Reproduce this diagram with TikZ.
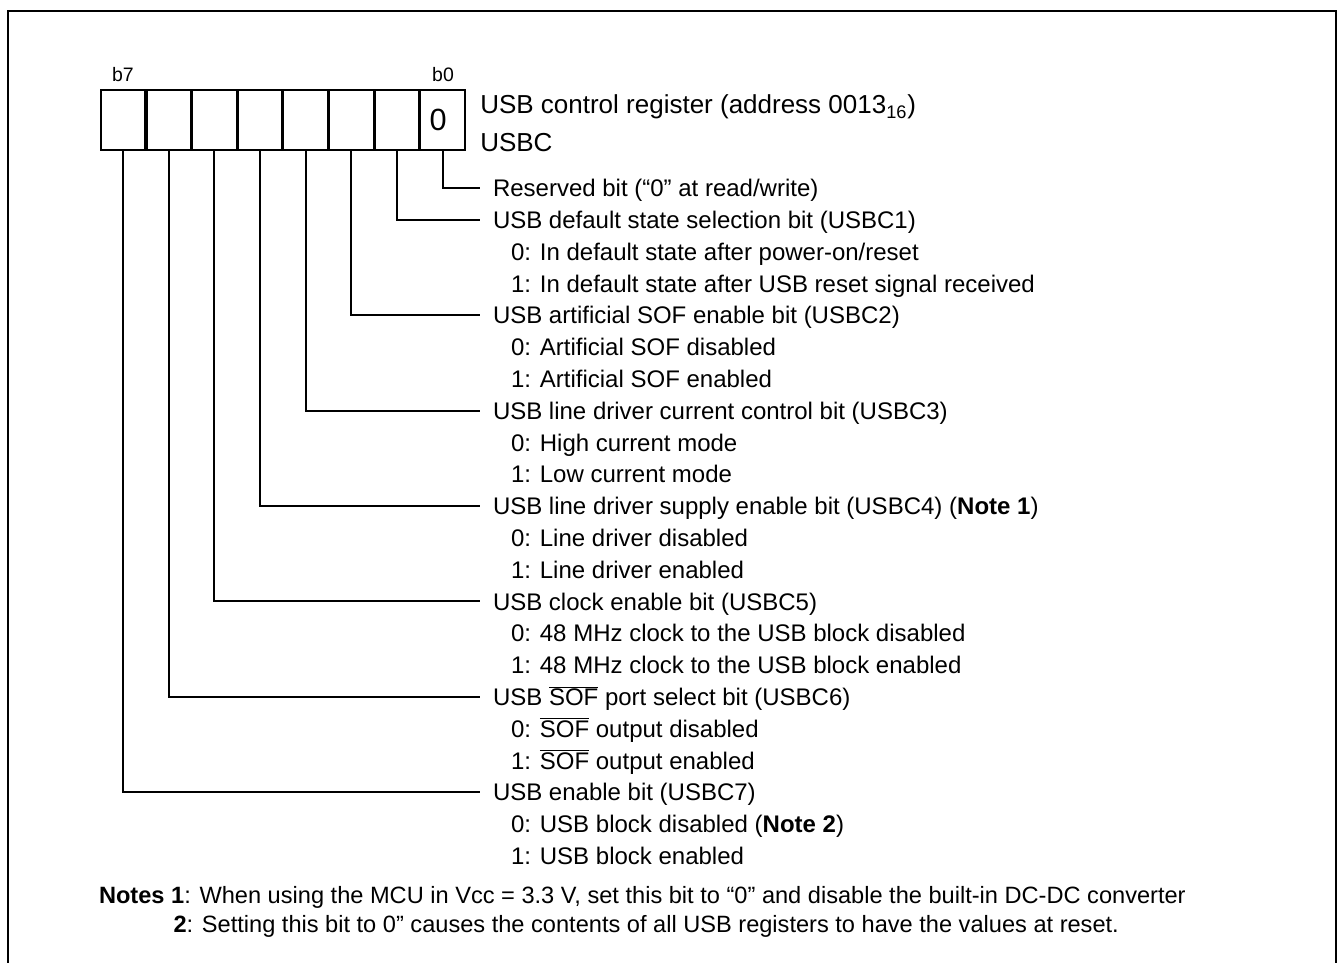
\documentclass[tikz,border=0pt]{standalone}
\usepackage{fontspec}
\setmainfont{Liberation Sans}
\usepackage{tikz}
\usetikzlibrary{positioning}
\newcommand{\ovl}[1]{$\overline{\mbox{#1}}$}
\tikzset{
  % register
  frm/.style={draw=black,line width=1.6pt},
  reg/.style={draw=black,line width=1.5pt,minimum width=33.4pt,minimum height=45pt,
              inner sep=0pt,outer sep=0pt,font=\fontsize{23}{26}\selectfont},
  bl/.style={anchor=base,inner sep=0pt,font=\fontsize{14.6}{17}\selectfont},
  ttl/.style={anchor=base west,inner sep=0pt,font=\fontsize{19.5}{23}\selectfont},
  % bitar
  wire/.style={draw=black,line width=1.5pt},
  hd/.style={anchor=west,inner xsep=9.75pt,inner ysep=0pt,outer sep=0pt,
             text height=12.9pt,text depth=0pt,font=\fontsize{18}{21}\selectfont},
  op/.style={hd,inner xsep=0pt},
  nt/.style={hd,inner xsep=0pt,font=\fontsize{17.7}{21}\selectfont},
}

\begin{document}
\begin{tikzpicture}[x=0.75pt,y=-0.75pt]
  \useasboundingbox (0,0) rectangle (1339,963);
  \draw[frm] (8,963) -- (8,11) -- (1336,11) -- (1336,963);
  \node[reg] (c7) at (123.1,120) {};
  \node[reg] (c6) at (168.8,120) {};
  \node[reg] (c5) at (214.4,120) {};
  \node[reg] (c4) at (260.1,120) {};
  \node[reg] (c3) at (305.7,120) {};
  \node[reg] (c2) at (351.4,120) {};
  \node[reg] (c1) at (397.0,120) {};
  \node[reg] (c0) at (442.7,120) {\hspace*{-7pt}0};
  \node[bl] (l7) at (123,82) {b7};
  \node[bl] (l0) at (443,82) {b0};
  \node[ttl] (reg) at (480,114) {USB control register (address 0013\textsubscript{16})};
  \node[ttl] (regn) at (480,152) {USBC};
  % rader
  \node[hd] (h0) at (480,188.0) {Reserved bit (“0” at read/write)};
  \node[hd] (h1) at (480,219.8) {USB default state selection bit (USBC1)};
  \node[op] (o10) at (511,251.6) {0: In default state after power-on/reset};
  \node[op] (o11) at (511,283.4) {1: In default state after USB reset signal received};
  \node[hd] (h2) at (480,315.2) {USB artificial SOF enable bit (USBC2)};
  \node[op] (o20) at (511,347.0) {0: Artificial SOF disabled};
  \node[op] (o21) at (511,378.8) {1: Artificial SOF enabled};
  \node[hd] (h3) at (480,410.6) {USB line driver current control bit (USBC3)};
  \node[op] (o30) at (511,442.4) {0: High current mode};
  \node[op] (o31) at (511,474.2) {1: Low current mode};
  \node[hd] (h4) at (480,506.0) {USB line driver supply enable bit (USBC4) (\textbf{Note 1})};
  \node[op] (o40) at (511,537.8) {0: Line driver disabled};
  \node[op] (o41) at (511,569.6) {1: Line driver enabled};
  \node[hd] (h5) at (480,601.4) {USB clock enable bit (USBC5)};
  \node[op] (o50) at (511,633.2) {0: 48 MHz clock to the USB block disabled};
  \node[op] (o51) at (511,665.0) {1: 48 MHz clock to the USB block enabled};
  \node[hd] (h6) at (480,696.8) {USB \ovl{SOF} port select bit (USBC6)};
  \node[op] (o60) at (511,728.6) {0: \ovl{SOF} output disabled};
  \node[op] (o61) at (511,760.4) {1: \ovl{SOF} output enabled};
  \node[hd] (h7) at (480,792.2) {USB enable bit (USBC7)};
  \node[op] (o70) at (511,824.0) {0: USB block disabled (\textbf{Note 2})};
  \node[op] (o71) at (511,855.8) {1: USB block enabled};
  \node[nt] (n1) at (99,895) {\textbf{Notes 1}: When using the MCU in Vcc = 3.3 V, set this bit to “0” and disable the built-in DC-DC converter};
  \node[nt] (n2) at (173.5,924) {\textbf{2}: Setting this bit to 0” causes the contents of all USB registers to have the values at reset.};
  \draw[wire] (c0.south) |- (h0.west);
  \draw[wire] (c1.south) |- (h1.west);
  \draw[wire] (c2.south) |- (h2.west);
  \draw[wire] (c3.south) |- (h3.west);
  \draw[wire] (c4.south) |- (h4.west);
  \draw[wire] (c5.south) |- (h5.west);
  \draw[wire] (c6.south) |- (h6.west);
  \draw[wire] (c7.south) |- (h7.west);
\end{tikzpicture}
\end{document}
